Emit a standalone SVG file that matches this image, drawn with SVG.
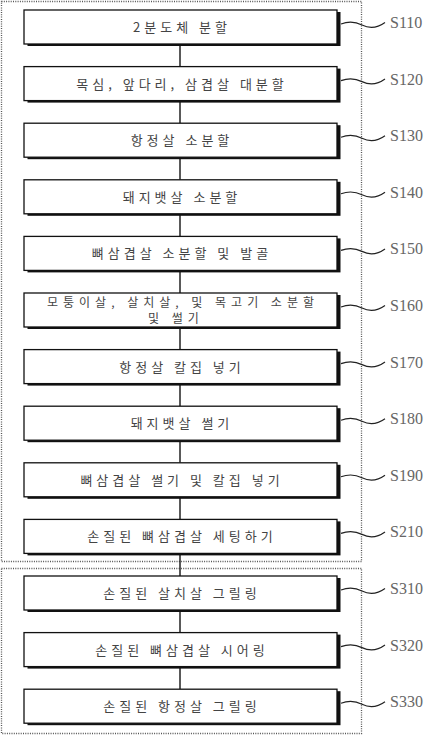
<svg xmlns="http://www.w3.org/2000/svg" width="439" height="736" viewBox="0 0 439 736">
<style>
.bg{fill:#fff}
.grp{fill:none;stroke:#555;stroke-width:1.3;stroke-dasharray:1 1.3}
.sh{fill:#111}
.box{fill:#fff;stroke:#111;stroke-width:1.3}
.t{font-family:"Noto Sans CJK KR","Noto Sans",sans-serif;font-size:13px;fill:#444;text-anchor:middle;letter-spacing:4px}
.t2{font-family:"Noto Sans CJK KR","Noto Sans",sans-serif;font-size:12px;fill:#444;text-anchor:middle;letter-spacing:5px}
.lbl{font-family:"Liberation Serif","Times New Roman",serif;font-size:16px;fill:#666}
.c{stroke:#222;stroke-width:1.5;fill:none}
.w{stroke:#222;stroke-width:1.2;fill:none}
</style>
<rect class="bg" x="0" y="0" width="439" height="736"/>
<g id="groups">
<rect class="grp" x="1.5" y="1.5" width="360" height="560"/>
<rect class="grp" x="1.5" y="568.5" width="360" height="165"/>
</g>
<g id="connectors">
<line class="c" x1="180" y1="44" x2="180" y2="66.6"/>
<line class="c" x1="180" y1="100.6" x2="180" y2="123.2"/>
<line class="c" x1="180" y1="157.2" x2="180" y2="179.8"/>
<line class="c" x1="180" y1="213.8" x2="180" y2="236.4"/>
<line class="c" x1="180" y1="270.4" x2="180" y2="293"/>
<line class="c" x1="180" y1="327" x2="180" y2="349.6"/>
<line class="c" x1="180" y1="383.6" x2="180" y2="406.2"/>
<line class="c" x1="180" y1="440.2" x2="180" y2="462.8"/>
<line class="c" x1="180" y1="496.8" x2="180" y2="519.4"/>
<line class="c" x1="180" y1="553.4" x2="180" y2="576"/>
<line class="c" x1="180" y1="610" x2="180" y2="632.6"/>
<line class="c" x1="180" y1="666.6" x2="180" y2="689.2"/>
</g>
<g id="S110"><rect class="sh" x="27.5" y="12" width="313" height="34"/><rect class="box" x="24" y="10" width="313" height="34"/><text class="t" x="182" y="32">2분도체 분할</text><path class="w" d="M341,24 C349,21 356,22 362,25 S376,29 385,22.5"/><text class="lbl" x="390" y="28">S110</text></g>
<g id="S120"><rect class="sh" x="27.5" y="68.6" width="313" height="34"/><rect class="box" x="24" y="66.6" width="313" height="34"/><text class="t" x="182" y="88.6">목심, 앞다리, 삼겹살 대분할</text><path class="w" d="M341,80.6 C349,77.6 356,78.6 362,81.6 S376,85.6 385,79.1"/><text class="lbl" x="390" y="84.6">S120</text></g>
<g id="S130"><rect class="sh" x="27.5" y="125.2" width="313" height="34"/><rect class="box" x="24" y="123.2" width="313" height="34"/><text class="t" x="182" y="145.2">항정살 소분할</text><path class="w" d="M341,137.2 C349,134.2 356,135.2 362,138.2 S376,142.2 385,135.7"/><text class="lbl" x="390" y="141.2">S130</text></g>
<g id="S140"><rect class="sh" x="27.5" y="181.8" width="313" height="34"/><rect class="box" x="24" y="179.8" width="313" height="34"/><text class="t" x="182" y="201.8">돼지뱃살 소분할</text><path class="w" d="M341,193.8 C349,190.8 356,191.8 362,194.8 S376,198.8 385,192.3"/><text class="lbl" x="390" y="197.8">S140</text></g>
<g id="S150"><rect class="sh" x="27.5" y="238.4" width="313" height="34"/><rect class="box" x="24" y="236.4" width="313" height="34"/><text class="t" x="182" y="258.4">뼈삼겹살 소분할 및 발골</text><path class="w" d="M341,250.4 C349,247.4 356,248.4 362,251.4 S376,255.4 385,248.9"/><text class="lbl" x="390" y="254.4">S150</text></g>
<g id="S160"><rect class="sh" x="27.5" y="295" width="313" height="34"/><rect class="box" x="24" y="293" width="313" height="34"/><text class="t2" x="183" y="306.5">모퉁이살, 살치살, 및 목고기 소분할</text><text class="t2" x="176" y="322.5">및 썰기</text><path class="w" d="M341,307 C349,304 356,305 362,308 S376,312 385,305.5"/><text class="lbl" x="390" y="311">S160</text></g>
<g id="S170"><rect class="sh" x="27.5" y="351.6" width="313" height="34"/><rect class="box" x="24" y="349.6" width="313" height="34"/><text class="t" x="182" y="371.6">항정살 칼집 넣기</text><path class="w" d="M341,363.6 C349,360.6 356,361.6 362,364.6 S376,368.6 385,362.1"/><text class="lbl" x="390" y="367.6">S170</text></g>
<g id="S180"><rect class="sh" x="27.5" y="408.2" width="313" height="34"/><rect class="box" x="24" y="406.2" width="313" height="34"/><text class="t" x="182" y="428.2">돼지뱃살 썰기</text><path class="w" d="M341,420.2 C349,417.2 356,418.2 362,421.2 S376,425.2 385,418.7"/><text class="lbl" x="390" y="424.2">S180</text></g>
<g id="S190"><rect class="sh" x="27.5" y="464.8" width="313" height="34"/><rect class="box" x="24" y="462.8" width="313" height="34"/><text class="t" x="182" y="484.8">뼈삼겹살 썰기 및 칼집 넣기</text><path class="w" d="M341,476.8 C349,473.8 356,474.8 362,477.8 S376,481.8 385,475.3"/><text class="lbl" x="390" y="480.8">S190</text></g>
<g id="S210"><rect class="sh" x="27.5" y="521.4" width="313" height="34"/><rect class="box" x="24" y="519.4" width="313" height="34"/><text class="t" x="182" y="541.4">손질된 뼈삼겹살 세팅하기</text><path class="w" d="M341,533.4 C349,530.4 356,531.4 362,534.4 S376,538.4 385,531.9"/><text class="lbl" x="390" y="537.4">S210</text></g>
<g id="S310"><rect class="sh" x="27.5" y="578" width="313" height="34"/><rect class="box" x="24" y="576" width="313" height="34"/><text class="t" x="182" y="598">손질된 살치살 그릴링</text><path class="w" d="M341,590 C349,587 356,588 362,591 S376,595 385,588.5"/><text class="lbl" x="390" y="594">S310</text></g>
<g id="S320"><rect class="sh" x="27.5" y="634.6" width="313" height="34"/><rect class="box" x="24" y="632.6" width="313" height="34"/><text class="t" x="182" y="654.6">손질된 뼈삼겹살 시어링</text><path class="w" d="M341,646.6 C349,643.6 356,644.6 362,647.6 S376,651.6 385,645.1"/><text class="lbl" x="390" y="650.6">S320</text></g>
<g id="S330"><rect class="sh" x="27.5" y="691.2" width="313" height="34"/><rect class="box" x="24" y="689.2" width="313" height="34"/><text class="t" x="182" y="711.2">손질된 항정살 그릴링</text><path class="w" d="M341,703.2 C349,700.2 356,701.2 362,704.2 S376,708.2 385,701.7"/><text class="lbl" x="390" y="707.2">S330</text></g>
</svg>
